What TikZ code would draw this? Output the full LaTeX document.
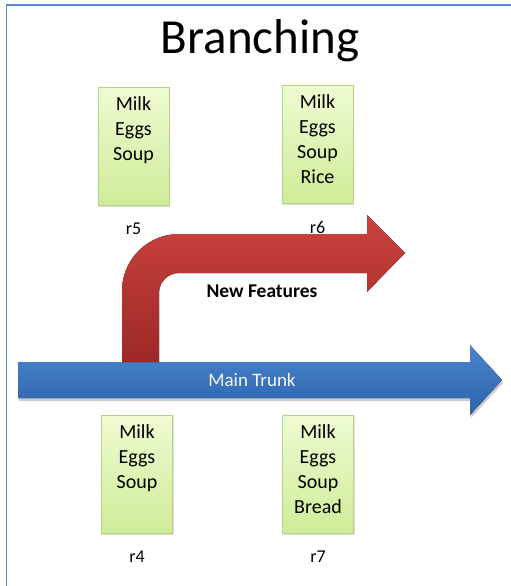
\documentclass[tikz,border=0pt]{standalone}
\usepackage{fontspec}
\setmainfont{Carlito}
\usepackage{tikz}
\usetikzlibrary{positioning,shadows}
\definecolor{framblue}{HTML}{5B8BD0}
\definecolor{trunktop}{HTML}{4A86CF}
\definecolor{trunkbot}{HTML}{2D62AB}
\definecolor{branchtop}{HTML}{CB423E}
\definecolor{branchbot}{HTML}{9C2926}
\definecolor{boxtop}{HTML}{EEFBD2}
\definecolor{boxbot}{HTML}{CFEC98}
\definecolor{boxline}{HTML}{B3D386}

\begin{document}
\begin{tikzpicture}[
x=1pt, y=-1pt,
release/.style={draw=boxline, line width=0.8pt, top color=boxtop, bottom color=boxbot,
  minimum width=71pt, minimum height=118pt, inner sep=0pt, anchor=north,
  drop shadow={shadow xshift=1pt, shadow yshift=-1.5pt, opacity=0.25}},
contents/.style={inner sep=0pt, align=center, font=\fontsize{20}{25}\selectfont},
revname/.style={inner sep=0pt, font=\fontsize{18}{20}\selectfont},
]
    % Fix the page
    \useasboundingbox (0,0) rectangle (511,586);
    \draw[framblue, line width=1.8pt] (6.5,586) |- (511,5);

    % Title
    \node[anchor=base, inner sep=0pt, font=\fontsize{49}{58}\selectfont] (title) at (260,53) {Branching};

    % Main trunk
    \fill[gray!40] (19,364) -- (471,364) -- (471,348) -- (503,383) -- (471,418) -- (471,401) -- (19,401) -- cycle;
    \fill[top color=trunktop, bottom color=trunkbot]
        (18,362) -- (470,362) -- (470,345) -- (502,380) -- (470,415) -- (470,398) -- (18,398) -- cycle;
    \node[font=\fontsize{19}{22}\selectfont, text=white!93!gray] (trunk) at (252,380) {Main Trunk};

    % Branch
    \fill[top color=branchtop, bottom color=branchbot]
        (122,362) -- (122,291) arc[start angle=180, end angle=270, radius=57] -- (367,234)
        -- (367,215) -- (405,253) -- (367,292) -- (367,273) -- (179,273)
        arc[start angle=270, end angle=180, radius=20] -- (159,362) -- cycle;
    \node[font=\bfseries\fontsize{19.5}{23}\selectfont] (branch) at (262,291) {New Features};

    % Revisions
    \node[release] (r5box) at (133.5,87) {};
    \node[release] (r6box) at (317.5,85) {};
    \node[release] (r4box) at (137,415) {};
    \node[release] (r7box) at (318,415) {};

    \node[contents, below=9pt of r5box.north] (r5list) {Milk\\Eggs\\Soup};
    \node[contents, below=9pt of r6box.north] (r6list) {Milk\\Eggs\\Soup\\Rice};
    \node[contents, below=9pt of r4box.north] (r4list) {Milk\\Eggs\\Soup};
    \node[contents, below=9pt of r7box.north] (r7list) {Milk\\Eggs\\Soup\\Bread};

    \node[revname, below=17pt of r5box] (r5) {r5};
    \node[revname, below=17pt of r6box] (r6) {r6};
    \node[revname, below=17pt of r4box] (r4) {r4};
    \node[revname, below=17pt of r7box] (r7) {r7};

\end{tikzpicture}
\end{document}
